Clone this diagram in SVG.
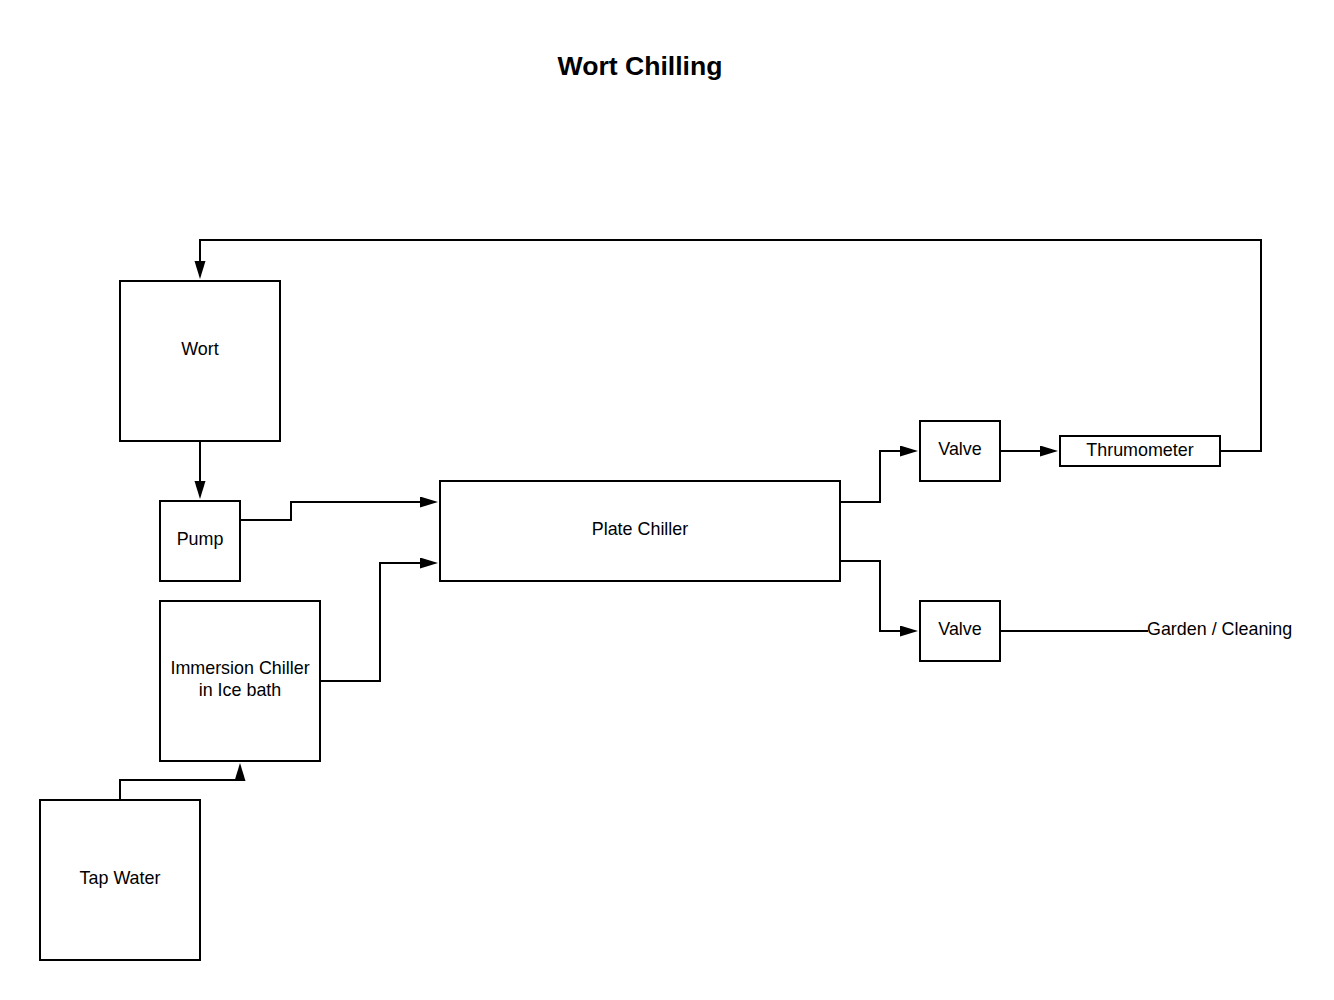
<svg xmlns="http://www.w3.org/2000/svg" width="1334" height="1000" viewBox="0 0 1334 1000">
<defs>
<style>
.box{fill:#fff;stroke:#000;stroke-width:2}
.lbl{font-family:"Liberation Sans",Arial,sans-serif;font-size:17.9px;fill:#000;text-anchor:middle}
.edge{fill:none;stroke:#000;stroke-width:2}
.title{font-family:"Liberation Sans",Arial,sans-serif;font-size:26.6px;font-weight:bold;fill:#000;text-anchor:middle}
</style>
<marker id="arr" markerUnits="userSpaceOnUse" markerWidth="20" markerHeight="12" refX="0" refY="5.5" orient="auto">
<path d="M0,0 L18,5.5 L0,11 z" fill="#000"/>
</marker>
</defs>
<rect width="1334" height="1000" fill="#fff"/>
<text class="title" x="640" y="75">Wort Chilling</text>
<g id="connectors">
<path class="edge" d="M200,441 L200,481" marker-end="url(#arr)"/>
<path class="edge" d="M240,520 L291,520 L291,502 L420,502" marker-end="url(#arr)"/>
<path class="edge" d="M320,681 L380,681 L380,563 L420,563" marker-end="url(#arr)"/>
<path class="edge" d="M120,800 L120,780 L240,780 L240,781" />
<path d="M234.5,781 L240,763 L245.5,781 z" fill="#000"/>
<path class="edge" d="M840,502 L880,502 L880,451 L900,451" marker-end="url(#arr)"/>
<path class="edge" d="M840,561 L880,561 L880,631 L900,631" marker-end="url(#arr)"/>
<path class="edge" d="M1000,451 L1040,451" marker-end="url(#arr)"/>
<path class="edge" d="M1220,451 L1261,451 L1261,240 L200,240 L200,261" marker-end="url(#arr)"/>
<path class="edge" d="M1000,631 L1148,631"/>
</g>
<g id="wort"><rect class="box" x="120" y="281" width="160" height="160"/><text class="lbl" x="200" y="355">Wort</text></g>
<g id="pump"><rect class="box" x="160" y="501" width="80" height="80"/><text class="lbl" x="200" y="545">Pump</text></g>
<g id="immersion"><rect class="box" x="160" y="601" width="160" height="160"/><text class="lbl" x="240" y="674">Immersion Chiller</text><text class="lbl" x="240" y="696">in Ice bath</text></g>
<g id="tapwater"><rect class="box" x="40" y="800" width="160" height="160"/><text class="lbl" x="120" y="884">Tap Water</text></g>
<g id="platechiller"><rect class="box" x="440" y="481" width="400" height="100"/><text class="lbl" x="640" y="535">Plate Chiller</text></g>
<g id="valve1"><rect class="box" x="920" y="421" width="80" height="60"/><text class="lbl" x="960" y="455">Valve</text></g>
<g id="valve2"><rect class="box" x="920" y="601" width="80" height="60"/><text class="lbl" x="960" y="635">Valve</text></g>
<g id="thrumometer"><rect class="box" x="1060" y="436" width="160" height="30"/><text class="lbl" x="1140" y="456">Thrumometer</text></g>
<g id="garden"><text class="lbl" x="1147" y="635" style="text-anchor:start">Garden / Cleaning</text></g>
</svg>
